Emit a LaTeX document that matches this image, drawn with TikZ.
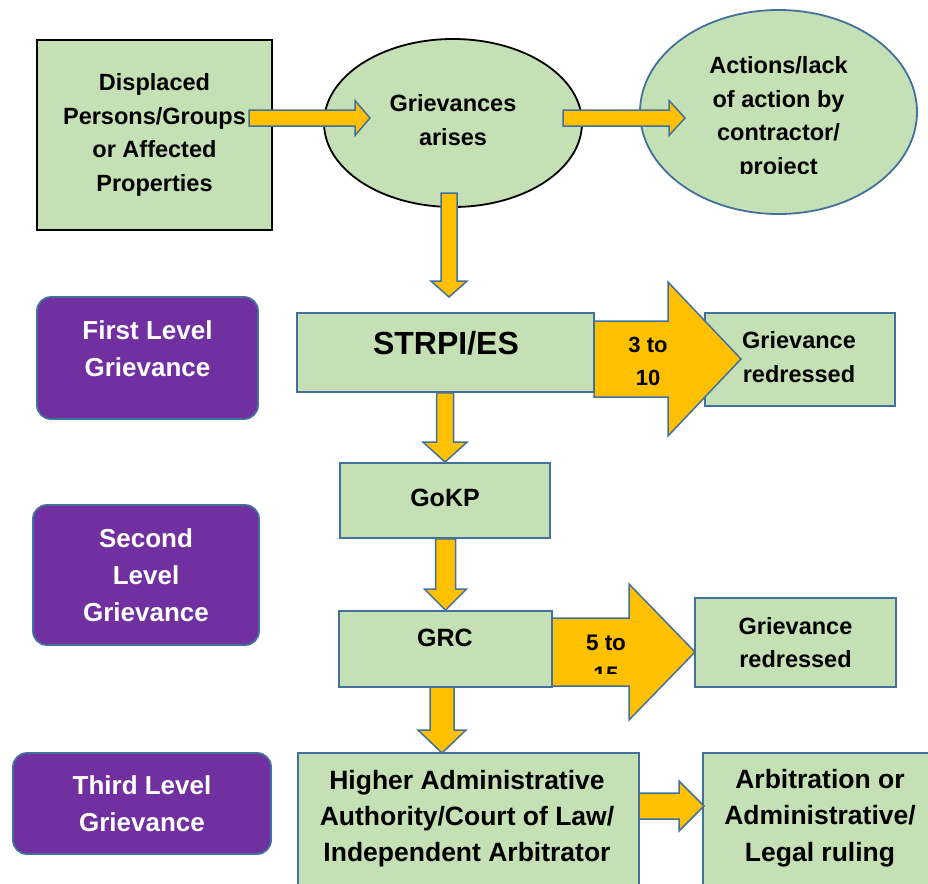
\documentclass[tikz,border=0pt]{standalone}
\usepackage{fontspec}
\setmainfont{Liberation Sans}
\usetikzlibrary{shapes.geometric,calc}
\definecolor{gfill}{HTML}{C5E0B4}
\definecolor{bline}{HTML}{41719C}
\definecolor{pfill}{HTML}{7030A0}
\definecolor{afill}{HTML}{FFC000}
\newcommand\bodyfont{\bfseries\fontsize{23.5}{33.5}\selectfont}
\newcommand\purpfont{\bfseries\fontsize{26}{37}\selectfont}
\newcommand\rarr[5]{%
\draw[blk] let \p1=#1, \p2=#2 in (\x1,\y2+#3pt) -- (\x2-#5pt,\y2+#3pt) -- (\x2-#5pt,\y2+#4pt) -- (\x2,\y2) -- (\x2-#5pt,\y2-#4pt) -- (\x2-#5pt,\y2-#3pt) -- (\x1,\y2-#3pt) -- cycle;}
\newcommand\darr[5]{%
\draw[blk] let \p1=#1, \p2=#2 in (\x2-#3pt,\y1) -- (\x2-#3pt,\y2+#5pt) -- (\x2-#4pt,\y2+#5pt) -- (\x2,\y2) -- (\x2+#4pt,\y2+#5pt) -- (\x2+#3pt,\y2+#5pt) -- (\x2+#3pt,\y1) -- cycle;}
\tikzset{
 gbox/.style={draw=bline, line width=1.8pt, fill=gfill, rectangle, inner sep=0pt, align=center, font=\bodyfont},
 pbox/.style={draw=bline, line width=1.8pt, fill=pfill, rounded corners=14pt, inner sep=0pt, text=white, align=center, font=\purpfont},
 blk/.style={draw=bline, line width=1.5pt, fill=afill, line join=miter},
 txt/.style={inner sep=0pt, align=center, font=\bodyfont},
}
\begin{document}
\begin{tikzpicture}[x=1pt,y=-1pt]
\fill[white] (0,0) rectangle (928,883);
\useasboundingbox (0,0) rectangle (928,883);
% top row
\node[gbox, draw=black, line width=2pt, minimum width=235pt, minimum height=190pt] (disp) at (154.5,135) {Displaced\\Persons/Groups\\or Affected\\Properties};
\node[ellipse, draw=black, line width=1.8pt, fill=gfill, minimum width=258pt, minimum height=168pt, inner sep=0pt] (griev) at (453,123) {};
\node[txt] (grievt) at (453,120) {Grievances\\arises};
\node[ellipse, draw=bline, line width=1.8pt, fill=gfill, minimum width=277pt, minimum height=204pt, inner sep=0pt] (act) at (778.5,112) {};
\begin{scope}
\clip (600,0) rectangle (928,173.5);
\node[txt, anchor=north] (actt) at (778.5,56.5) {Actions/lack\\of action by\\contractor/\\project};
\end{scope}
% levels
\node[pbox, minimum width=221pt, minimum height=122pt] (first) at (147.5,358) {};
\node[txt, text=white, font=\purpfont] (firstt) at (147.5,349) {First Level\\Grievance};
\node[pbox, minimum width=226pt, minimum height=140pt] (second) at (146,575) {Second\\Level\\Grievance};
\node[pbox, minimum width=258pt, minimum height=101pt] (third) at (142,803.5) {Third Level\\Grievance};
% boxes
\node[gbox, minimum width=297pt, minimum height=79pt] (strpi) at (445.5,352.5) {};
\node[txt, font=\bfseries\fontsize{32}{38}\selectfont] (strpit) at (446,343) {STRPI/ES};
\node[gbox, minimum width=190pt, minimum height=93pt] (red1) at (800,359.5) {};
\node[gbox, minimum width=210pt, minimum height=75pt] (gokp) at (445,500.5) {};
\node[txt, font=\bfseries\fontsize{25}{30}\selectfont] (gokpt) at (445,498) {GoKP};
\node[gbox, minimum width=213pt, minimum height=76pt] (grc) at (445.5,649) {};
\node[txt, font=\bfseries\fontsize{25}{30}\selectfont] (grct) at (445,638) {GRC};
\node[gbox, minimum width=201pt, minimum height=89pt] (red2) at (795.5,642.5) {Grievance\\redressed};
\node[gbox, minimum width=341pt, minimum height=140pt] (high) at (468.5,823) {};
\node[txt, anchor=north, font=\bfseries\fontsize{26.5}{36}\selectfont] (hight) at (467,770) {Higher Administrative\\Authority/Court of Law/\\Independent Arbitrator};
\node[gbox, minimum width=232pt, minimum height=140pt] (arb) at (819,823) {};
\node[txt, anchor=north, font=\bfseries\fontsize{26.5}{36.5}\selectfont] (arbt) at (820,769) {Arbitration or\\Administrative/\\Legal ruling};
% arrow end points
\coordinate (a1s) at (249,118); \coordinate (a1t) at (370,118);
\coordinate (a2s) at (563,118); \coordinate (a2t) at (685,118);
\coordinate (a3s) at (449,193); \coordinate (a3t) at (449,297);
\coordinate (a6s) at (442,687); \coordinate (a6t) at (442,753);
\coordinate (b1s) at (594,359); \coordinate (b1t) at (741,359);
\coordinate (b2s) at (552,652); \coordinate (b2t) at (695,652);
\coordinate (a7s) at (639,806); \coordinate (a7t) at (704,806);
% arrows
\rarr{(a1s)}{(a1t)}{8}{17.5}{15}
\rarr{(a2s)}{(a2t)}{8}{17.5}{16}
\darr{(a3s)}{(a3t)}{8}{18}{16}
\darr{(strpi.south)}{(gokp.north)}{8.5}{22}{20}
\darr{(gokp.south)}{(grc.north)}{10}{21}{21}
\darr{(a6s)}{(a6t)}{12}{24}{23}
\rarr{(b1s)}{(b1t)}{38}{77}{73}
\rarr{(b2s)}{(b2t)}{34}{68}{66}
\rarr{(a7s)}{(a7t)}{13}{25}{25}
% texts over arrows
\node[txt] (red1t) at (799,357) {Grievance\\redressed};
\node[txt, font=\bfseries\fontsize{22}{33}\selectfont] (b1l) at (648,361) {3 to\\10};
\begin{scope}
\clip (560,600) rectangle (660,673);
\node[txt, anchor=north, font=\bfseries\fontsize{22.5}{32}\selectfont] (b2l) at (606,635) {5 to\\15};
\end{scope}
\end{tikzpicture}
\end{document}
